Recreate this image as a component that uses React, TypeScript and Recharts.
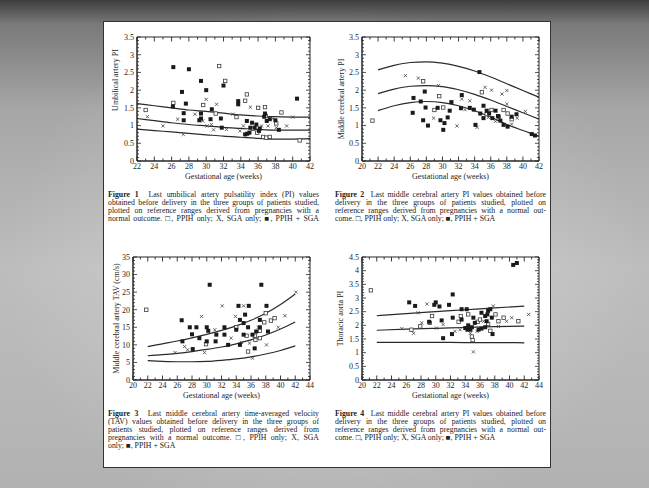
import React from "react";
import { ComposedChart, Scatter, Line, XAxis, YAxis, ReferenceArea } from "recharts";

type Pair = [number, number];

// Figure 1 – umbilical artery PI
const fig1Weeks = [22, 24, 26, 28, 30, 32, 34, 36, 38, 40, 42];
const fig1Upper = [1.62, 1.56, 1.5, 1.44, 1.4, 1.35, 1.3, 1.27, 1.25, 1.24, 1.24];
const fig1Median = [1.2, 1.14, 1.08, 1.03, 0.99, 0.95, 0.92, 0.89, 0.87, 0.87, 0.87];
const fig1Lower = [0.9, 0.86, 0.82, 0.78, 0.74, 0.7, 0.67, 0.64, 0.62, 0.62, 0.63];
const fig1Ppih: Pair[] = [[23.0, 1.44], [26.2, 1.64], [31.5, 2.68], [32.2, 2.26], [34.7, 1.88], [34.5, 1.7], [36.0, 1.5], [36.8, 1.52], [36.9, 1.27], [38.1, 1.06], [38.7, 1.37], [36.6, 0.68], [36.95, 0.66], [37.35, 0.68], [40.8, 0.58], [35.4, 0.91], [35.9, 0.8], [33.5, 1.24], [29.65, 1.58], [31.1, 1.34]];
const fig1Sga: Pair[] = [[23.2, 1.25], [25.0, 0.99], [26.7, 1.18], [27.35, 0.75], [28.7, 1.32], [29.6, 1.13], [30.1, 0.99], [30.85, 0.88], [31.2, 1.6], [32.35, 0.89], [33.9, 0.85], [34.3, 0.99], [35.1, 1.52], [36.4, 0.99], [37.15, 0.99], [37.7, 1.2], [38.1, 0.94], [39.3, 0.99], [40.0, 1.24], [30.0, 1.74], [33.1, 1.32], [30.6, 1.03]];
const fig1Both: Pair[] = [[26.2, 2.65], [28.0, 2.59], [29.4, 2.26], [30.0, 2.0], [27.2, 1.95], [32.0, 2.13], [27.65, 1.62], [26.15, 1.54], [27.4, 1.35], [27.4, 1.15], [29.4, 1.34], [29.2, 1.15], [29.4, 1.2], [30.65, 1.46], [30.5, 1.18], [31.7, 1.2], [31.8, 0.94], [33.7, 1.69], [33.7, 1.6], [34.7, 1.13], [34.5, 0.75], [34.75, 0.77], [35.0, 0.8], [35.1, 0.94], [35.6, 0.94], [35.8, 1.03], [36.1, 0.85], [36.2, 0.92], [36.7, 1.25], [36.8, 1.34], [37.0, 1.13], [37.35, 1.18], [38.0, 1.15], [38.4, 0.88], [40.5, 1.76], [35.3, 1.08]];

// Figure 2 – middle cerebral artery PI
const fig2Weeks = [22, 24, 26, 28, 30, 32, 34, 36, 38, 40, 42];
const fig2Upper = [2.57, 2.7, 2.78, 2.8, 2.76, 2.67, 2.54, 2.37, 2.18, 1.99, 1.8];
const fig2Median = [1.9, 2.03, 2.11, 2.13, 2.1, 2.01, 1.88, 1.72, 1.54, 1.36, 1.18];
const fig2Lower = [1.42, 1.56, 1.65, 1.68, 1.65, 1.56, 1.42, 1.24, 1.03, 0.86, 0.7];
const fig2Ppih: Pair[] = [[21.3, 1.14], [27.6, 2.25], [29.6, 1.83], [34.9, 1.94], [37.0, 1.25], [37.6, 1.44], [29.0, 1.44], [30.1, 1.51], [38.1, 1.34], [35.5, 1.32], [36.1, 1.44], [38.6, 1.18]];
const fig2Sga: Pair[] = [[25.4, 2.41], [27.0, 2.34], [29.5, 2.13], [35.3, 2.08], [36.1, 2.0], [37.4, 1.89], [38.0, 1.99], [38.0, 1.61], [28.9, 1.21], [31.8, 0.99], [32.8, 1.45], [34.3, 0.95], [39.3, 1.21], [40.3, 1.4], [33.4, 1.7], [32.4, 1.75], [31.2, 1.68], [36.6, 1.12], [35.7, 1.23], [38.6, 1.04]];
const fig2Both: Pair[] = [[26.4, 1.78], [26.3, 1.36], [27.3, 1.68], [27.8, 1.96], [27.6, 1.15], [27.9, 1.51], [28.2, 1.0], [29.4, 1.5], [29.75, 1.15], [30.1, 0.88], [30.25, 1.07], [30.65, 1.23], [30.9, 1.42], [31.1, 1.66], [32.4, 1.86], [32.3, 1.49], [33.4, 1.5], [33.9, 1.45], [34.1, 1.02], [34.6, 2.51], [34.7, 1.34], [35.1, 1.21], [35.5, 1.42], [35.8, 1.34], [36.2, 1.21], [36.6, 1.42], [36.9, 1.27], [37.2, 1.14], [37.6, 1.02], [38.1, 0.97], [38.6, 1.25], [39.2, 1.32], [41.1, 0.76], [41.5, 0.72], [35.1, 1.56]];

// Figure 3 – middle cerebral artery TAV (cm/s)
const fig3Weeks = [22, 24, 26, 28, 30, 32, 34, 36, 38, 40, 42];
const fig3Upper = [9.5, 10.3, 11.1, 12.0, 13.0, 14.1, 15.4, 17.0, 19.0, 21.5, 24.5];
const fig3Median = [6.9, 7.2, 7.6, 8.1, 8.7, 9.4, 10.3, 11.4, 12.8, 14.5, 16.5];
const fig3Lower = [5.5, 5.3, 5.2, 5.2, 5.3, 5.6, 6.0, 6.6, 7.4, 8.4, 9.7];
const fig3Ppih: Pair[] = [[21.8, 20.0], [29.9, 10.2], [34.0, 15.0], [35.4, 12.6], [36.5, 12.6], [37.2, 14.0], [37.8, 16.4], [38.0, 19.0], [38.7, 16.9], [39.2, 17.6], [37.2, 11.9], [35.6, 8.1], [36.6, 11.4]];
const fig3Sga: Pair[] = [[25.7, 7.8], [27.0, 9.5], [29.3, 18.1], [32.1, 21.1], [29.7, 7.8], [33.9, 18.1], [35.0, 21.1], [36.2, 6.2], [37.0, 15.0], [38.1, 10.0], [40.6, 18.3], [42.1, 25.0], [33.3, 11.9], [34.7, 10.7], [39.7, 15.0], [31.1, 14.3], [27.4, 8.6], [35.8, 10.5]];
const fig3Both: Pair[] = [[26.6, 17.0], [30.4, 27.1], [37.4, 27.1], [26.7, 11.0], [27.7, 15.0], [28.6, 15.0], [28.0, 13.0], [28.1, 8.8], [30.0, 15.0], [30.2, 14.0], [30.0, 11.0], [31.2, 11.0], [31.3, 12.9], [32.4, 12.9], [32.4, 15.0], [34.3, 21.1], [34.5, 17.1], [35.0, 16.2], [35.7, 21.1], [35.6, 15.0], [35.0, 12.9], [36.2, 12.9], [36.7, 13.8], [37.2, 15.0], [38.1, 21.1], [38.3, 13.8], [37.2, 17.1], [36.5, 9.0], [34.5, 10.0], [32.9, 10.0], [29.0, 11.9], [35.2, 18.6], [34.0, 14.3]];

// Figure 4 – thoracic aorta PI
const fig4Weeks = [22, 26, 30, 34, 38, 42];
const fig4Upper = [2.35, 2.43, 2.5, 2.57, 2.64, 2.7];
const fig4Median = [1.82, 1.86, 1.89, 1.92, 1.95, 1.97];
const fig4Lower = [1.38, 1.38, 1.38, 1.37, 1.37, 1.36];
const fig4Ppih: Pair[] = [[21.2, 3.28], [33.1, 2.13], [33.4, 2.34], [34.4, 2.4], [34.9, 1.59], [35.0, 1.46], [35.7, 2.13], [36.0, 2.21], [37.1, 2.05], [38.1, 2.4], [38.5, 2.15], [39.2, 2.28], [41.2, 2.15], [29.5, 2.34], [29.2, 2.09], [27.9, 1.96], [26.7, 1.84], [37.4, 1.8]];
const fig4Sga: Pair[] = [[25.4, 1.88], [27.6, 2.46], [28.8, 2.78], [28.1, 2.09], [27.0, 1.71], [31.0, 2.03], [32.6, 1.78], [35.1, 1.03], [34.7, 1.71], [37.8, 2.71], [38.5, 1.96], [39.6, 2.15], [40.3, 2.28], [42.6, 2.4], [30.1, 1.9], [33.3, 1.84], [36.5, 2.15], [35.6, 1.78]];
const fig4Both: Pair[] = [[26.4, 2.84], [27.2, 2.71], [29.8, 2.75], [30.0, 2.84], [30.5, 2.69], [32.3, 3.13], [31.8, 2.75], [29.1, 2.13], [30.8, 2.18], [32.3, 2.28], [31.0, 1.53], [32.2, 1.68], [33.5, 2.59], [34.2, 2.59], [34.0, 1.9], [34.3, 1.84], [34.7, 1.84], [34.4, 2.0], [34.9, 1.93], [35.8, 1.84], [36.2, 1.88], [36.7, 1.93], [36.9, 2.15], [37.0, 2.4], [37.1, 2.53], [37.4, 2.59], [37.6, 2.28], [37.7, 1.68], [36.2, 2.46], [36.7, 2.34], [35.1, 2.28], [35.3, 2.09], [41.0, 4.28], [40.5, 4.21], [33.5, 2.21]];

// axis ticks
const weekTicks22to42 = [22, 24, 26, 28, 30, 32, 34, 36, 38, 40, 42];
const weekTicks20to42 = [20, 22, 24, 26, 28, 30, 32, 34, 36, 38, 40, 42];
const weekTicks20to44 = [20, 22, 24, 26, 28, 30, 32, 34, 36, 38, 40, 42, 44];
const piTicks35 = [0, 0.5, 1, 1.5, 2, 2.5, 3, 3.5];
const piTicks45 = [0, 0.5, 1, 1.5, 2, 2.5, 3, 3.5, 4, 4.5];
const tavTicks = [0, 5, 10, 15, 20, 25, 30, 35];

const FONT = "'Liberation Serif', 'Times New Roman', serif";
const INK = "#262626";

const steps = (from: number, to: number, step: number) => {
  const out: number[] = [];
  for (let v = from; v <= to + 1e-9; v += step) out.push(Math.round(v * 1000) / 1000);
  return out;
};
const isIn = (list: number[], v: number) => list.some((m) => Math.abs(m - v) < 1e-6);
const toPts = (pairs: Pair[]) => pairs.map(([x, y]) => ({ x, y }));
const toCurve = (weeks: number[], vals: number[]) => weeks.map((x, i) => ({ x, y: vals[i] }));

const OpenSquare = (p: any) => (
  <rect x={p.cx - 1.7} y={p.cy - 1.7} width={3.4} height={3.4} fill="#fff" stroke="#3a3a3a" strokeWidth={0.8} />
);
const FilledSquare = (p: any) => <rect x={p.cx - 2} y={p.cy - 2} width={4} height={4} fill="#1a1a1a" />;
const Cross = (p: any) => (
  <path
    d={`M${p.cx - 1.6},${p.cy - 1.6}L${p.cx + 1.6},${p.cy + 1.6}M${p.cx - 1.6},${p.cy + 1.6}L${p.cx + 1.6},${p.cy - 1.6}`}
    stroke="#444"
    strokeWidth={0.8}
  />
);

interface PanelProps {
  plot: { left: number; top: number; right: number; bottom: number };
  xMajor: number[];
  yMajor: number[];
  yStep: number;
  weeks: number[];
  curves: number[][];
  ppih: Pair[];
  sga: Pair[];
  both: Pair[];
  yTitle: string;
  yTitleDx: number;
  yTitleDy: number;
}

function Panel({ plot, xMajor, yMajor, yStep, weeks, curves, ppih, sga, both, yTitle, yTitleDx, yTitleDy }: PanelProps) {
  const yw = 40;
  const mt = 8;
  const mr = 6;
  const xh = 30;
  const chartLeft = plot.left - yw;
  const chartTop = plot.top - mt;
  const width = plot.right - chartLeft + mr;
  const height = plot.bottom - chartTop + xh;
  const plotW = plot.right - plot.left;
  const plotH = plot.bottom - plot.top;
  const xMin = xMajor[0];
  const xMax = xMajor[xMajor.length - 1];
  const yMin = yMajor[0];
  const yMax = yMajor[yMajor.length - 1];
  const xAll = steps(xMin, xMax, 1);
  const yAll = steps(yMin, yMax, yStep);

  const xTick = (props: any) => {
    const { x, y, payload } = props;
    const major = isIn(xMajor, payload.value);
    const len = major ? 4.5 : 2.5;
    return (
      <g>
        <line x1={x} x2={x} y1={y} y2={y - len} stroke={INK} strokeWidth={0.9} />
        <line x1={x} x2={x} y1={y - plotH} y2={y - plotH + len} stroke={INK} strokeWidth={0.9} />
        {major && (
          <text x={x} y={y + 8} textAnchor="middle" fontSize={8} fontFamily={FONT} fill={INK}>
            {payload.value}
          </text>
        )}
      </g>
    );
  };

  const yTick = (props: any) => {
    const { x, y, payload } = props;
    const major = isIn(yMajor, payload.value);
    const len = major ? 4 : 2;
    return (
      <g>
        <line x1={x} x2={x + len} y1={y} y2={y} stroke={INK} strokeWidth={0.8} />
        <line x1={x + plotW} x2={x + plotW - len} y1={y} y2={y} stroke={INK} strokeWidth={0.8} />
        {major && (
          <text x={x - 3} y={y + 2.8} textAnchor="end" fontSize={8} fontFamily={FONT} fill={INK}>
            {payload.value}
          </text>
        )}
      </g>
    );
  };

  const xTitle = (props: any) => {
    const vb = props.viewBox;
    return (
      <text x={vb.x + vb.width / 2} y={vb.y + 18} textAnchor="middle" fontSize={8} fontFamily={FONT} fill={INK}>
        Gestational age (weeks)
      </text>
    );
  };

  const yTitleEl = (props: any) => {
    const vb = props.viewBox;
    const cx = vb.x + vb.width - yTitleDx;
    const cy = vb.y + vb.height / 2 + yTitleDy;
    return (
      <text
        x={cx}
        y={cy}
        transform={`rotate(-90 ${cx} ${cy})`}
        textAnchor="middle"
        dominantBaseline="central"
        fontSize={8}
        fontFamily={FONT}
        fill={INK}
      >
        {yTitle}
      </text>
    );
  };

  return (
    <div style={{ position: "absolute", left: chartLeft, top: chartTop }}>
      <ComposedChart width={width} height={height} margin={{ top: mt, right: mr, left: 0, bottom: 0 }}>
        <XAxis
          dataKey="x"
          type="number"
          domain={[xMin, xMax]}
          ticks={xAll}
          interval={0}
          allowDataOverflow
          height={xh}
          tickLine={false}
          tickSize={0}
          tickMargin={0}
          axisLine={{ stroke: INK }}
          tick={xTick}
          label={xTitle}
        />
        <YAxis
          type="number"
          domain={[yMin, yMax]}
          ticks={yAll}
          interval={0}
          allowDataOverflow
          width={yw}
          tickLine={false}
          tickSize={0}
          tickMargin={0}
          axisLine={{ stroke: INK }}
          tick={yTick}
          label={yTitleEl}
        />
        <ReferenceArea x1={xMin} x2={xMax} y1={yMin} y2={yMax} fill="none" stroke={INK} strokeWidth={1} />
        {curves.map((c, i) => (
          <Line
            key={i}
            data={toCurve(weeks, c)}
            dataKey="y"
            type="monotone"
            stroke="#2a2a2a"
            strokeWidth={1.2}
            dot={false}
            isAnimationActive={false}
          />
        ))}
        <Scatter data={toPts(ppih)} dataKey="y" shape={OpenSquare} isAnimationActive={false} />
        <Scatter data={toPts(sga)} dataKey="y" shape={Cross} isAnimationActive={false} />
        <Scatter data={toPts(both)} dataKey="y" shape={FilledSquare} isAnimationActive={false} />
      </ComposedChart>
    </div>
  );
}

const fig1Caption = [
  "Last umbilical artery pulsatility index (PI) values",
  "obtained before delivery in the three groups of patients studied,",
  "plotted on reference ranges derived from pregnancies with a",
  "normal outcome. \u25A1, PPIH only; X, SGA only; \u25A0, PPIH + SGA",
];
const fig2Caption = [
  "Last middle cerebral artery PI values obtained before",
  "delivery in the three groups of patients studied, plotted on",
  "reference ranges derived from pregnancies with a normal out-",
  "come. \u25A1, PPIH only; X, SGA only; \u25A0, PPIH + SGA",
];
const fig3Caption = [
  "Last middle cerebral artery time-averaged velocity",
  "(TAV) values obtained before delivery in the three groups of",
  "patients studied, plotted on reference ranges derived from",
  "pregnancies with a normal outcome. \u25A1, PPIH only; X, SGA",
  "only; \u25A0, PPIH + SGA",
];
const fig4Caption = fig2Caption;

function Caption({ left, top, title, lines, justifyLast }: { left: number; top: number; title: string; lines: string[]; justifyLast: boolean }) {
  return (
    <div style={{ position: "absolute", left, top, width: 211, fontSize: 7.8, lineHeight: "8px", color: "#222", fontFamily: FONT }}>
      {lines.map((l, i) => (
        <div
          key={i}
          style={{
            whiteSpace: "nowrap",
            textAlign: "justify",
            textAlignLast: i < lines.length - 1 || justifyLast ? "justify" : "left",
          }}
        >
          {i === 0 && <b>{title}&nbsp;&nbsp;</b>}
          {l}
        </div>
      ))}
    </div>
  );
}

export default function App() {
  return (
    <div
      style={{
        position: "fixed",
        left: 0,
        top: 0,
        width: 649,
        height: 488,
        overflow: "hidden",
        background:
          "radial-gradient(ellipse at 50% 55%, rgba(255,255,255,0.35) 0%, rgba(255,255,255,0) 70%), linear-gradient(180deg, #3e3e3e 0%, #7a7a7a 5%, #a6a6a6 22%, #bdbdbd 55%, #b2b2b2 100%)",
      }}
    >
      <div
        style={{
          position: "absolute",
          left: 103,
          top: 21,
          width: 448,
          height: 447,
          boxSizing: "border-box",
          background: "#fff",
          border: "1px solid #333",
        }}
      />
      <Panel
        plot={{ left: 137, top: 37, right: 310, bottom: 161 }}
        xMajor={weekTicks22to42}
        yMajor={piTicks35}
        yStep={0.1}
        weeks={fig1Weeks}
        curves={[fig1Upper, fig1Median, fig1Lower]}
        ppih={fig1Ppih}
        sga={fig1Sga}
        both={fig1Both}
        yTitle="Umbilical artery PI"
        yTitleDx={22}
        yTitleDy={-19}
      />
      <Panel
        plot={{ left: 362, top: 37, right: 539, bottom: 161 }}
        xMajor={weekTicks20to42}
        yMajor={piTicks35}
        yStep={0.1}
        weeks={fig2Weeks}
        curves={[fig2Upper, fig2Median, fig2Lower]}
        ppih={fig2Ppih}
        sga={fig2Sga}
        both={fig2Both}
        yTitle="Middle cerebral artery PI"
        yTitleDx={21}
        yTitleDy={0}
      />
      <Panel
        plot={{ left: 133, top: 257, right: 310, bottom: 380 }}
        xMajor={weekTicks20to44}
        yMajor={tavTicks}
        yStep={1}
        weeks={fig3Weeks}
        curves={[fig3Upper, fig3Median, fig3Lower]}
        ppih={fig3Ppih}
        sga={fig3Sga}
        both={fig3Both}
        yTitle="Middle cerebral artery TAV (cm/s)"
        yTitleDx={17}
        yTitleDy={0}
      />
      <Panel
        plot={{ left: 362, top: 257, right: 539, bottom: 380 }}
        xMajor={weekTicks20to44}
        yMajor={piTicks45}
        yStep={0.1}
        weeks={fig4Weeks}
        curves={[fig4Upper, fig4Median, fig4Lower]}
        ppih={fig4Ppih}
        sga={fig4Sga}
        both={fig4Both}
        yTitle="Thoracic aorta PI"
        yTitleDx={22}
        yTitleDy={0}
      />
      <Caption left={108} top={191} title="Figure 1" lines={fig1Caption} justifyLast />
      <Caption left={335} top={191} title="Figure 2" lines={fig2Caption} justifyLast={false} />
      <Caption left={108} top={410} title="Figure 3" lines={fig3Caption} justifyLast={false} />
      <Caption left={335} top={410} title="Figure 4" lines={fig4Caption} justifyLast={false} />
    </div>
  );
}
